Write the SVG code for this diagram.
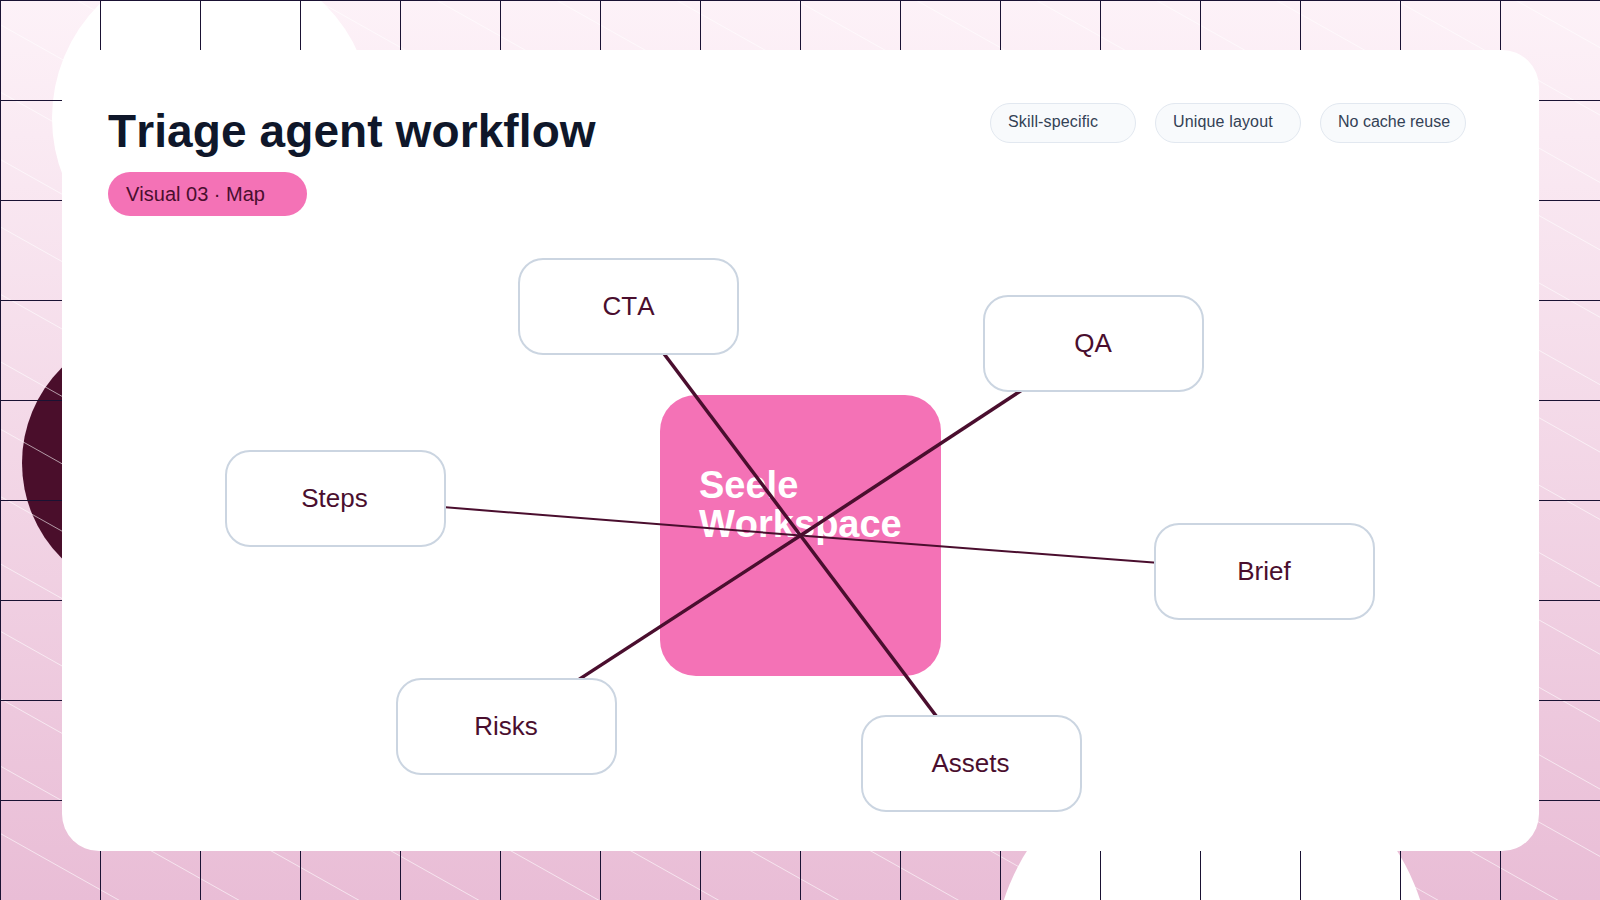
<svg xmlns="http://www.w3.org/2000/svg" width="1600" height="900" viewBox="0 0 1600 900">
<defs>
<linearGradient id="bg" x1="0" y1="0" x2="0" y2="1"><stop offset="0" stop-color="#fdf2f8"/><stop offset="1" stop-color="#e9bdd6"/></linearGradient>
<pattern id="grid" x="0" y="0" width="100" height="100" patternUnits="userSpaceOnUse"><rect width="100" height="1" fill="#1a1233"/><rect width="1" height="100" fill="#1a1233"/></pattern>
<pattern id="diag" x="0" y="24" width="120" height="67.4" patternUnits="userSpaceOnUse" patternTransform="skewY(29.34)"><rect y="0" width="120" height="1" fill="#fff" fill-opacity="0.58"/></pattern>
</defs>
<style>
text{font-family:"Liberation Sans",Arial,sans-serif;text-rendering:optimizeSpeed;font-kerning:none}
.node rect{fill:#fff;stroke:#cbd5e1;stroke-width:2}
.node text{font-size:26px;fill:#4a0e2e;text-anchor:middle}
.chip rect{fill:#f8fafc;stroke:#e2e8f0;stroke-width:1}
.chip text{font-size:16px;fill:#334155}
.link{stroke:#4a0e2e;fill:none}
</style>
<rect width="1600" height="900" fill="url(#bg)"/>
<circle cx="212" cy="118" r="160" fill="#fff"/>
<circle cx="156" cy="463" r="134" fill="#4a0e2b"/>
<circle cx="1212" cy="968" r="219" fill="#fff"/>
<rect width="1600" height="900" fill="url(#diag)"/>
<rect width="1600" height="900" fill="url(#grid)"/>
<rect x="62" y="50" width="1477" height="801" rx="37" fill="#fff"/>
<text x="108" y="147" font-size="46" font-weight="700" fill="#0f172a" letter-spacing="0.1">Triage agent workflow</text>
<g id="badge"><rect x="108" y="172" width="199" height="44" rx="22" fill="#f472b6"/><text x="126" y="201" font-size="20" fill="#4a0e2e">Visual 03 · Map</text></g>
<g id="chip-1" class="chip"><rect x="990.5" y="103.5" width="145" height="39" rx="19.5"/><text x="1008" y="127" letter-spacing="0.15">Skill-specific</text></g>
<g id="chip-2" class="chip"><rect x="1155.5" y="103.5" width="145" height="39" rx="19.5"/><text x="1173" y="127" letter-spacing="0.15">Unique layout</text></g>
<g id="chip-3" class="chip"><rect x="1320.5" y="103.5" width="145" height="39" rx="19.5"/><text x="1338" y="127">No cache reuse</text></g>
<g id="hub"><rect x="660" y="395" width="281" height="281" rx="36" fill="#f472b6"/><text font-size="38" font-weight="700" fill="#fff"><tspan x="699" y="498">Seele</tspan><tspan x="699" y="537">Workspace</tspan></text></g>
<g id="connectors">
<line class="link" x1="800.500" y1="535.500" x2="628.500" y2="306.500" stroke-width="3.500"/>
<line class="link" x1="800.500" y1="535.500" x2="1093.500" y2="343" stroke-width="3.500"/>
<line class="link" x1="800.500" y1="535.500" x2="335.500" y2="498.500" stroke-width="2"/>
<line class="link" x1="800.500" y1="535.500" x2="1264.500" y2="571" stroke-width="2"/>
<line class="link" x1="800.500" y1="535.500" x2="506.500" y2="726.500" stroke-width="3.500"/>
<line class="link" x1="800.500" y1="535.500" x2="971.500" y2="763" stroke-width="3.500"/>
</g>
<g id="node-cta" class="node"><rect x="519" y="259" width="219" height="95" rx="24"/><text x="628.500" y="315">CTA</text></g>
<g id="node-qa" class="node"><rect x="984" y="296" width="219" height="95" rx="24"/><text x="1093" y="351.500">QA</text></g>
<g id="node-steps" class="node"><rect x="226" y="451" width="219" height="95" rx="24"/><text x="334.500" y="507">Steps</text></g>
<g id="node-brief" class="node"><rect x="1155" y="524" width="219" height="95" rx="24"/><text x="1264" y="580">Brief</text></g>
<g id="node-risks" class="node"><rect x="397" y="679" width="219" height="95" rx="24"/><text x="506" y="735">Risks</text></g>
<g id="node-assets" class="node"><rect x="862" y="716" width="219" height="95" rx="24"/><text x="970.500" y="772">Assets</text></g>
</svg>
